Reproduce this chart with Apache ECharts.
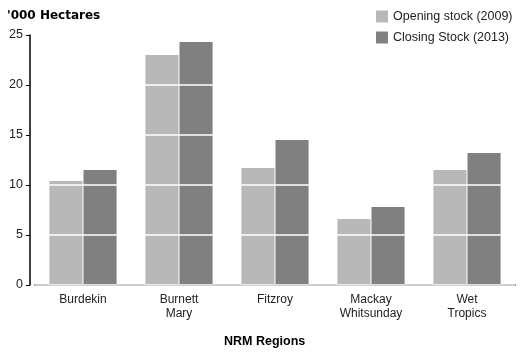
<!DOCTYPE html>
<html>
<head>
<meta charset="utf-8">
<script src="https://cdn.jsdelivr.net/npm/echarts@6/dist/echarts.min.js"></script>
<style>
  html, body { margin: 0; padding: 0; background: #fff; }
  #main { width: 521px; height: 354px; }
</style>
</head>
<body>
<div id="main"></div>
<script>
var regions = ['Burdekin', 'Burnett\nMary', 'Fitzroy', 'Mackay\nWhitsunday', 'Wet\nTropics'];
var opening = [10.4, 23.0, 11.7, 6.6, 11.5];
var closing = [11.5, 24.3, 14.5, 7.8, 13.2];
var yTicks = [0, 25, 5];

var myChart = echarts.init(document.getElementById('main'));
var font = 'Liberation Sans';
var option = {
    animation: false,
    backgroundColor: '#fff',
    textStyle: { fontFamily: font },
    title: [
        { text: "'000 Hectares", left: 2, top: 5,
          textStyle: { fontSize: 12, fontWeight: 'bold', color: '#000', fontFamily: 'DejaVu Sans' } },
        { text: 'NRM Regions', left: 219, top: 330,
          textStyle: { fontSize: 12.5, fontWeight: 'bold', color: '#000', fontFamily: font } }
    ],
    legend: {
        orient: 'vertical',
        left: 371,
        top: 5,
        itemWidth: 12,
        itemHeight: 12,
        itemGap: 8,
        icon: 'rect',
        z: 10,
        textStyle: { fontSize: 12.5, color: '#222', fontFamily: font },
        data: ['Opening stock (2009)', 'Closing Stock (2013)']
    },
    grid: { left: 35, right: 6, top: 35, bottom: 69 },
    xAxis: {
        type: 'category',
        data: regions,
        axisLine: { lineStyle: { color: '#000', width: 1.5 } },
        axisTick: { alignWithLabel: true, length: 5, lineStyle: { color: '#000' } },
        axisLabel: { fontSize: 12, color: '#222', margin: 8, lineHeight: 14, fontFamily: font }
    },
    yAxis: {
        type: 'value',
        min: yTicks[0],
        max: yTicks[1],
        interval: yTicks[2],
        offset: 5,
        z: 3,
        axisLine: { show: true, lineStyle: { color: '#000', width: 1.5 } },
        axisTick: { show: true, length: 4, lineStyle: { color: '#000' } },
        axisLabel: { fontSize: 12.5, color: '#222', margin: 7, fontFamily: font },
        splitLine: { show: true, lineStyle: { color: '#fff', width: 1.5 } }
    },
    series: [
        {
            name: 'Opening stock (2009)',
            type: 'bar',
            data: opening,
            barGap: '3%',
            barCategoryGap: '30%',
            itemStyle: { color: '#b8b8b8' }
        },
        {
            name: 'Closing Stock (2013)',
            type: 'bar',
            data: closing,
            itemStyle: { color: '#808080' }
        }
    ]
};
myChart.setOption(option);
</script>
</body>
</html>
